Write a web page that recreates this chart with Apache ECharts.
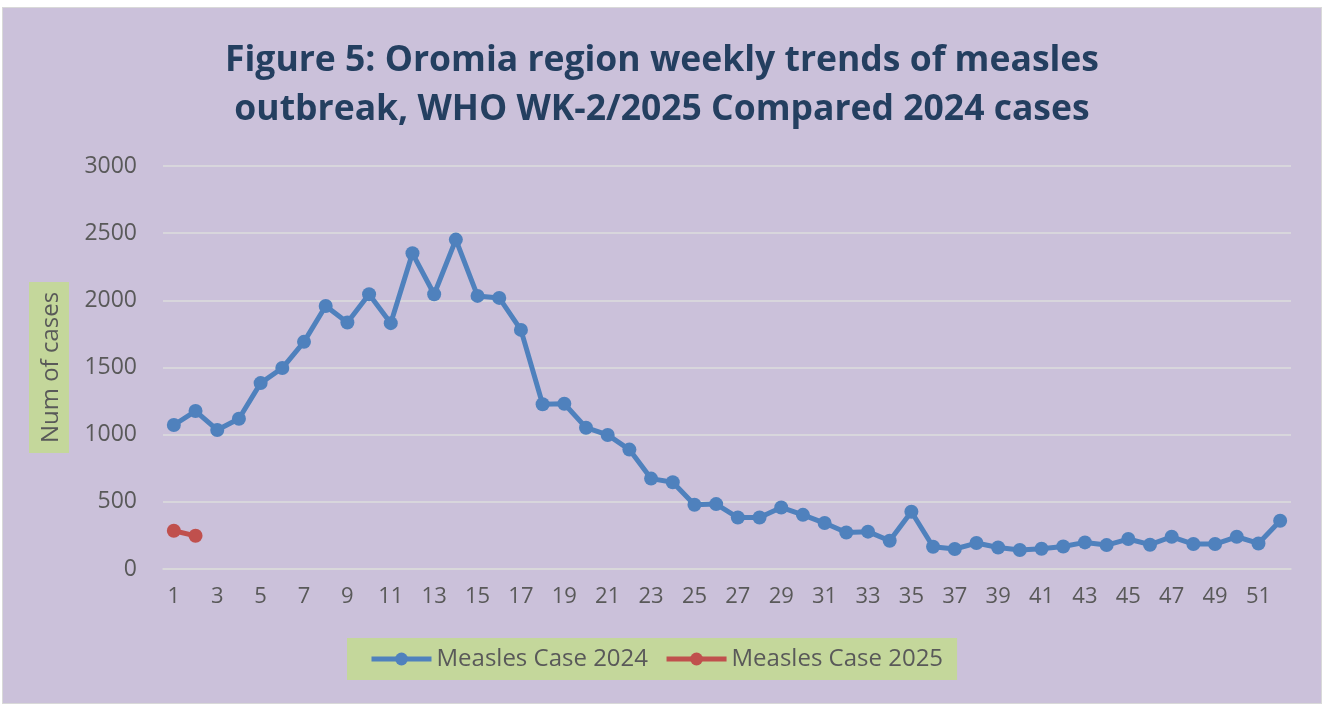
<!DOCTYPE html>
<html>
<head>
<meta charset="utf-8">
<script src="https://cdn.jsdelivr.net/npm/echarts@6/dist/echarts.min.js"></script>
<style>
  html, body { margin: 0; padding: 0; background: #ffffff; }
  #chart { position: absolute; left: 2px; top: 7px; width: 1318px; height: 695px; border: 1px solid #d9d9d9; }
</style>
</head>
<body>
<div id="chart"></div>
<script>
// weeks 1..52
const weeks = Array.from({ length: 52 }, (_, i) => String(i + 1));

const cases2024 = [
  1072, 1176, 1035, 1119, 1384, 1496, 1691, 1958, 1835, 2045,
  1830, 2350, 2045, 2452, 2033, 2018, 1780, 1226, 1230, 1052,
  998, 889, 673, 646, 478, 483, 383, 383, 458, 403,
  342, 272, 278, 210, 426, 166, 149, 193, 160, 141,
  151, 168, 198, 178, 223, 181, 240, 186, 186, 240,
  190, 359
];
const cases2025 = [285, 247];

const labelColor = "#595959";
const font = "'Open Sans', 'Noto Sans', sans-serif";

const chart = echarts.init(document.getElementById("chart"));
chart.setOption({
  backgroundColor: "#cbc1da",
  animation: false,
  title: {
    text: "Figure 5: Oromia region weekly trends of measles\noutbreak, WHO WK-2/2025 Compared 2024 cases",
    left: "center",
    top: 23,
    textStyle: {
      color: "#243f60",
      fontFamily: font,
      fontWeight: "bold",
      fontSize: 35.5,
      lineHeight: 49,
    },
  },
  grid: { left: 160, right: 30, top: 158, bottom: 134 },
  legend: {
    left: 344,
    top: 630,
    width: 617,
    backgroundColor: "#c4d79b",
    padding: [9, 14, 9, 22],
    itemGap: 16,
    itemWidth: 60,
    itemHeight: 16,
    itemStyle: { borderWidth: 0 },
    lineStyle: { width: 5 },
    textStyle: { color: labelColor, fontFamily: font, fontSize: 24 },
    data: ["Measles Case 2024", "Measles Case 2025"],
  },
  xAxis: {
    type: "category",
    data: weeks,
    boundaryGap: true,
    axisLine: { show: true, lineStyle: { color: "#d9d9d9", width: 1.5 } },
    axisTick: { show: false },
    axisLabel: {
      interval: 1,
      color: labelColor,
      fontFamily: font,
      fontSize: 22,
      margin: 17,
    },
  },
  yAxis: {
    type: "value",
    min: 0,
    max: 3000,
    interval: 500,
    name: "Num of cases",
    nameLocation: "middle",
    nameRotate: 90,
    nameGap: 94,
    nameTextStyle: {
      color: labelColor,
      fontFamily: font,
      fontSize: 24,
      backgroundColor: "#c4d79b",
      padding: [10, 10, 6, 10],
    },
    axisLine: { show: false },
    axisTick: { show: false },
    axisLabel: {
      color: labelColor,
      fontFamily: font,
      fontSize: 23,
      margin: 26,
      formatter: (v) => String(v),
    },
    splitLine: { lineStyle: { color: "#dcdcdc", width: 1.5 } },
  },
  series: [
    {
      name: "Measles Case 2024",
      type: "line",
      data: cases2024,
      symbol: "circle",
      symbolSize: 14,
      lineStyle: { color: "#4f81bd", width: 5 },
      itemStyle: { color: "#4f81bd" },
    },
    {
      name: "Measles Case 2025",
      type: "line",
      data: cases2025,
      symbol: "circle",
      symbolSize: 14,
      lineStyle: { color: "#c0504d", width: 5 },
      itemStyle: { color: "#c0504d" },
    },
  ],
});
</script>
</body>
</html>
